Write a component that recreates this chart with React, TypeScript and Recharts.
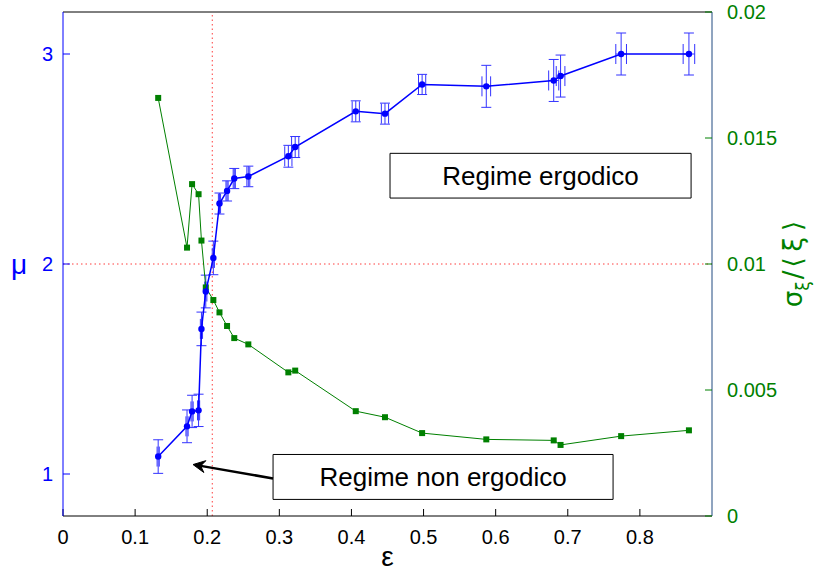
import {
  ComposedChart,
  Scatter,
  XAxis,
  YAxis,
  ErrorBar,
  ReferenceLine,
  ReferenceArea,
  Label,
} from 'recharts';

// epsilon values (shared by both series)
const eps = [
  0.132, 0.172, 0.179, 0.188, 0.192, 0.198, 0.2085, 0.217, 0.2275, 0.2375, 0.257,
  0.3125, 0.322, 0.406, 0.4465, 0.498, 0.587, 0.6805, 0.69, 0.774, 0.868,
];
// mu with its errors
const mu = [
  1.083, 1.227, 1.298, 1.303, 1.691, 1.869, 2.029, 2.288, 2.348, 2.407, 2.417,
  2.513, 2.557, 2.727, 2.716, 2.855, 2.846, 2.874, 2.895, 3.0, 3.0,
];
const muErr = [
  0.08, 0.078, 0.077, 0.077, 0.08, 0.078, 0.08, 0.05, 0.048, 0.048, 0.049,
  0.052, 0.05, 0.05, 0.05, 0.048, 0.1, 0.1, 0.1, 0.1, 0.1,
];
const epsErr = [
  0.0015, 0.0015, 0.0015, 0.0015, 0.0015, 0.0015, 0.0015, 0.0015, 0.0015, 0.0015, 0.002,
  0.005, 0.005, 0.005, 0.005, 0.005, 0.006, 0.007, 0.006, 0.0074, 0.008,
];
// sigma_xi / <xi>
const sigma = [
  0.01659, 0.01065, 0.01317, 0.01277, 0.01093, 0.00907, 0.00857, 0.00808, 0.00754, 0.00706, 0.00681,
  0.0057, 0.00577, 0.00416, 0.00392, 0.00329, 0.00304, 0.003, 0.00282, 0.00317, 0.0034,
];

const xTicks = [0, 0.1, 0.2, 0.3, 0.4, 0.5, 0.6, 0.7, 0.8];
const muTicks = [1, 2, 3];
const sigmaTicks = [0, 0.005, 0.01, 0.015, 0.02];

const rows = eps.map((e, i) => ({
  eps: e,
  mu: mu[i],
  muErr: muErr[i],
  epsErr: epsErr[i],
  sigma: sigma[i],
}));

const BLUE = '#0000ff';
const GREEN = '#008000';
const RED = '#ff3c3c';

const Dot = (p: any) => <circle cx={p.cx} cy={p.cy} r={3.2} fill={BLUE} />;
const Square = (p: any) => (
  <rect x={p.cx - 3} y={p.cy - 3} width={6} height={6} fill={GREEN} />
);

const Arrow = (p: any) => {
  const { x1, y1, x2, y2 } = p;
  const a = Math.atan2(y2 - y1, x2 - x1);
  const L = 12;
  const W = 6;
  const cx = Math.cos(a);
  const sy = Math.sin(a);
  const bx = x2 - L * cx;
  const by = y2 - L * sy;
  const nx = x2 - L * 0.65 * cx;
  const ny = y2 - L * 0.65 * sy;
  const pts = [
    `${x2},${y2}`,
    `${bx - sy * W},${by + cx * W}`,
    `${nx},${ny}`,
    `${bx + sy * W},${by - cx * W}`,
  ].join(' ');
  return (
    <g>
      <line x1={x1} y1={y1} x2={nx} y2={ny} stroke="#000" strokeWidth={2.5} />
      <polygon points={pts} fill="#000" stroke="#000" strokeWidth={1} />
    </g>
  );
};

const SigmaLabel = (p: any) => {
  const vb = p.viewBox;
  const x = vb.x + 90;
  const y = vb.y + vb.height / 2;
  return (
    <text
      x={x}
      y={y}
      transform={`rotate(-90, ${x}, ${y})`}
      textAnchor="middle"
      fill={GREEN}
      fontSize={26}
      fontFamily='"DejaVu Sans", sans-serif'
    >
      σ
      <tspan fontSize={17} dy={7}>ξ</tspan>
      <tspan dy={-7} dx={2}>/</tspan>
      <tspan dx={3}>⟨</tspan>
      <tspan dx={6}>ξ</tspan>
      <tspan dx={6}>⟩</tspan>
    </text>
  );
};

export default function App() {
  return (
    <div
      style={{
        position: 'absolute',
        left: 0,
        top: 0,
        width: 826,
        height: 574,
        background: '#fff',
        fontFamily: '"Liberation Sans", Arial, sans-serif',
      }}
    >
      <ComposedChart width={826} height={574} margin={{ top: 0, right: 0, bottom: 0, left: 0 }}>
        <XAxis
          dataKey="eps"
          type="number"
          domain={[0, 0.9]}
          ticks={xTicks}
          height={58}
          allowDataOverflow
          stroke="#000"
          tickSize={-7}
          tickMargin={21}
          tick={{ fill: '#000', fontSize: 20 }}
        >
          <Label value="ε" position="insideBottom" offset={8} fontSize={28} fill="#000" />
        </XAxis>
        <XAxis
          xAxisId="top"
          orientation="top"
          type="number"
          domain={[0, 0.9]}
          ticks={xTicks}
          height={12}
          allowDataOverflow
          stroke="#000"
          tickSize={-7}
          tick={false}
        />
        <YAxis
          yAxisId="mu"
          dataKey="mu"
          type="number"
          domain={[0.8, 3.2]}
          ticks={muTicks}
          width={63}
          allowDataOverflow
          stroke={BLUE}
          tickSize={-7}
          tickMargin={17}
          tick={{ fill: BLUE, fontSize: 20 }}
        >
          <Label value="μ" position="insideLeft" offset={11} fontSize={28} fill={BLUE} />
        </YAxis>
        <YAxis
          yAxisId="sigma"
          dataKey="sigma"
          orientation="right"
          type="number"
          domain={[0, 0.02]}
          ticks={sigmaTicks}
          width={114}
          allowDataOverflow
          stroke="#204a80"
          tickLine={{ stroke: GREEN }}
          tickSize={-7}
          tickMargin={22}
          tick={{ fill: GREEN, fontSize: 20 }}
        >
          <Label content={<SigmaLabel />} />
        </YAxis>

        <ReferenceLine yAxisId="mu" x={0.207} stroke={RED} strokeDasharray="1.5 3" />
        <ReferenceLine yAxisId="mu" y={2} stroke={RED} strokeDasharray="1.5 3" />

        <Scatter
          yAxisId="sigma"
          data={rows}
          shape={<Square />}
          line={{ stroke: GREEN, strokeWidth: 1 }}
          isAnimationActive={false}
        />
        <Scatter
          yAxisId="mu"
          data={rows}
          shape={<Dot />}
          line={{ stroke: BLUE, strokeWidth: 1.5 }}
          isAnimationActive={false}
        >
          <ErrorBar dataKey="muErr" direction="y" width={5} stroke="#3333ff" strokeWidth={1} />
          <ErrorBar dataKey="epsErr" direction="x" width={10} stroke="#3333ff" strokeWidth={1} />
        </Scatter>

        <ReferenceArea
          yAxisId="mu"
          x1={0.4535}
          x2={0.871}
          y1={2.314}
          y2={2.527}
          fill="#fff"
          fillOpacity={1}
          stroke="#000"
          strokeWidth={1}
          label={{ value: 'Regime ergodico', position: 'center', fontSize: 26, fill: '#000' }}
        />
        <ReferenceArea
          yAxisId="mu"
          x1={0.2913}
          x2={0.7628}
          y1={0.879}
          y2={1.093}
          fill="#fff"
          fillOpacity={1}
          stroke="#000"
          strokeWidth={1}
          label={{ value: 'Regime non ergodico', position: 'center', fontSize: 26, fill: '#000' }}
        />
        <ReferenceLine
          yAxisId="mu"
          segment={[
            { x: 0.2913, y: 0.979 },
            { x: 0.1803, y: 1.045 },
          ]}
          shape={<Arrow />}
        />
      </ComposedChart>
    </div>
  );
}
